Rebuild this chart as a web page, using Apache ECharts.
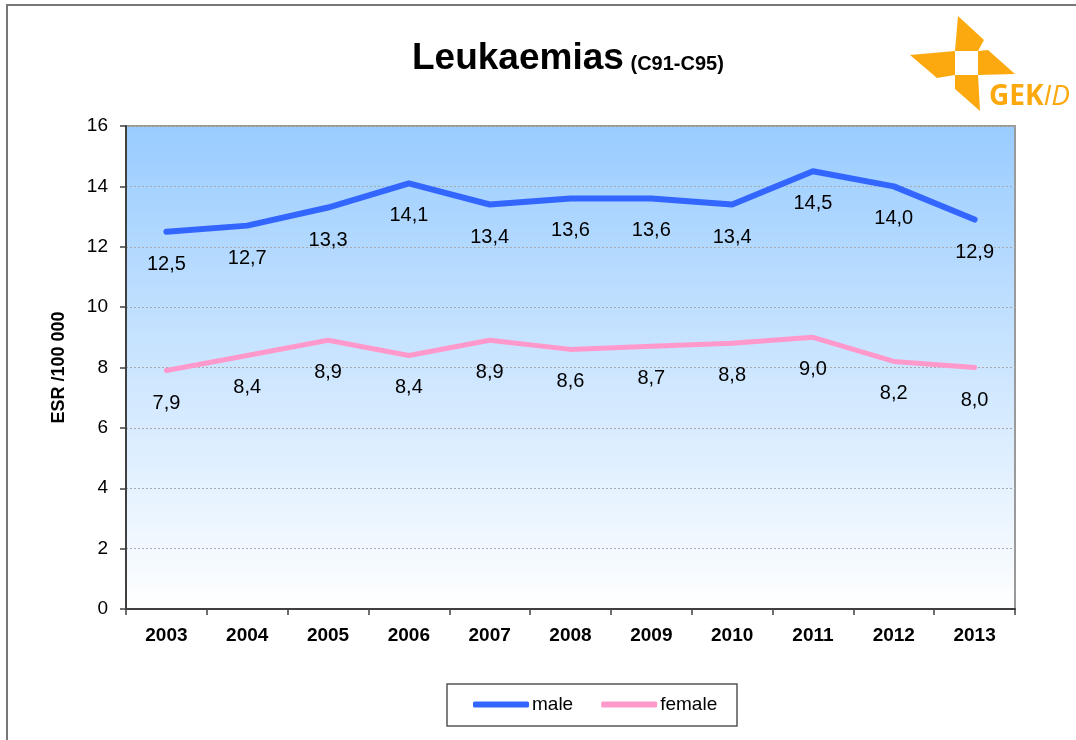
<!DOCTYPE html>
<html>
<head>
<meta charset="utf-8">
<script src="https://cdn.jsdelivr.net/npm/echarts@6/dist/echarts.min.js"></script>
<style>
  html, body { margin: 0; padding: 0; background: #fff; }
  #chart { width: 1076px; height: 740px; }
</style>
</head>
<body>
<div id="chart"></div>
<script>
// Age-standardised incidence rates (ESR per 100 000), leukaemias C91-C95
const years = ['2003', '2004', '2005', '2006', '2007', '2008', '2009', '2010', '2011', '2012', '2013'];
const male = [12.5, 12.7, 13.3, 14.1, 13.4, 13.6, 13.6, 13.4, 14.5, 14.0, 12.9];
const female = [7.9, 8.4, 8.9, 8.4, 8.9, 8.6, 8.7, 8.8, 9.0, 8.2, 8.0];
const yTicks = { min: 0, max: 16, interval: 2 };

const FONT = 'Liberation Sans, Arial, sans-serif';
const ORANGE = '#FCA90F';
const BLUE = '#3366FF';
const PINK = '#FF99CC';

const fmt = v => v.toFixed(1).replace('.', ',');

const chart = echarts.init(document.getElementById('chart'), null, { renderer: 'canvas' });

const labelStyle = {
  show: true,
  position: 'bottom',
  distance: 22,
  color: '#000',
  fontFamily: FONT,
  fontSize: 20,
  formatter: p => fmt(p.value)
};

chart.setOption({
  animation: false,
  backgroundColor: '#fff',
  grid: {
    left: 126, right: 61, top: 126, bottom: 131,
    show: true,
    borderColor: '#9a9a9a',
    borderWidth: 2,
    backgroundColor: new echarts.graphic.LinearGradient(0, 0, 0, 1, [
      { offset: 0, color: '#99CCFF' },
      { offset: 1, color: '#FFFFFF' }
    ])
  },
  legend: {
    left: 473, top: 695,
    padding: 0,
    itemWidth: 56, itemHeight: 6, itemGap: 28,
    icon: 'roundRect',
    textStyle: { fontFamily: FONT, fontSize: 19, color: '#000', padding: [0, 0, 0, -2] },
    data: [
      { name: 'male', itemStyle: { color: BLUE, opacity: 1 } },
      { name: 'female', itemStyle: { color: PINK, opacity: 1 } }
    ]
  },
  xAxis: {
    type: 'category',
    data: years,
    boundaryGap: true,
    axisLine: { lineStyle: { color: '#404040', width: 2 } },
    axisTick: { show: true, length: 6, lineStyle: { color: '#404040', width: 1.5 } },
    axisLabel: { color: '#000', fontFamily: FONT, fontSize: 19, fontWeight: 'bold', margin: 17 },
    splitLine: { show: false }
  },
  yAxis: {
    type: 'value',
    min: yTicks.min, max: yTicks.max, interval: yTicks.interval,
    name: 'ESR /100 000',
    nameLocation: 'middle',
    nameGap: 58,
    nameTextStyle: { color: '#000', fontFamily: FONT, fontSize: 18, fontWeight: 'bold' },
    axisLine: { show: true, lineStyle: { color: '#404040', width: 2 } },
    axisTick: { show: true, length: 6, lineStyle: { color: '#404040', width: 1.5 } },
    axisLabel: { color: '#000', fontFamily: FONT, fontSize: 19, margin: 18 },
    splitLine: { show: true, lineStyle: { color: '#aaaaaa', width: 1, type: [2, 2] } }
  },
  series: [
    {
      name: 'male', type: 'line', data: male,
      symbol: 'circle', symbolSize: 1, showSymbol: true,
      itemStyle: { color: 'rgba(0,0,0,0)', borderWidth: 0 },
      lineStyle: { width: 6, color: BLUE, cap: 'round', join: 'round' },
      label: labelStyle
    },
    {
      name: 'female', type: 'line', data: female,
      symbol: 'circle', symbolSize: 1, showSymbol: true,
      itemStyle: { color: 'rgba(0,0,0,0)', borderWidth: 0 },
      lineStyle: { width: 5, color: PINK, cap: 'round', join: 'round' },
      label: labelStyle
    }
  ],
  graphic: [
    // outer frame
    { type: 'rect', shape: { x: 7, y: 5, width: 1100, height: 800 },
      style: { fill: 'none', stroke: '#777', lineWidth: 2 }, z: -1 },
    // legend frame
    { type: 'rect', shape: { x: 447, y: 684, width: 290, height: 42 },
      style: { fill: '#fff', stroke: '#555', lineWidth: 1.5 }, z: -1 },
    // title
    { type: 'text', left: 412, top: 40,
      style: {
        text: '{a|Leukaemias}  {b|(C91-C95)}',
        rich: {
          a: { fontFamily: FONT, fontSize: 37, fontWeight: 'bold', fill: '#000' },
          b: { fontFamily: FONT, fontSize: 20, fontWeight: 'bold', fill: '#000', padding: [12, 0, 0, 0] }
        }
      }
    },
    // pinwheel logo
    { type: 'polygon', shape: { points: [[958, 16], [984, 40], [978, 51], [955, 51]] }, style: { fill: ORANGE } },
    { type: 'polygon', shape: { points: [[978, 51], [988, 50], [1015, 74], [978, 75]] }, style: { fill: ORANGE } },
    { type: 'polygon', shape: { points: [[955, 75], [978, 75], [980, 111], [955, 89]] }, style: { fill: ORANGE } },
    { type: 'polygon', shape: { points: [[910, 55], [955, 51], [955, 75], [937, 78]] }, style: { fill: ORANGE } },
    { type: 'text', left: 989, top: 83,
      style: {
        text: '{a|GEK}{b|ID}',
        rich: {
          a: { fontFamily: 'Open Sans, ' + FONT, fontSize: 28, fontWeight: 'bold', fill: ORANGE },
          b: { fontFamily: 'Open Sans, ' + FONT, fontSize: 28, fontStyle: 'italic', fill: ORANGE }
        }
      }
    }
  ]
});
</script>
</body>
</html>
